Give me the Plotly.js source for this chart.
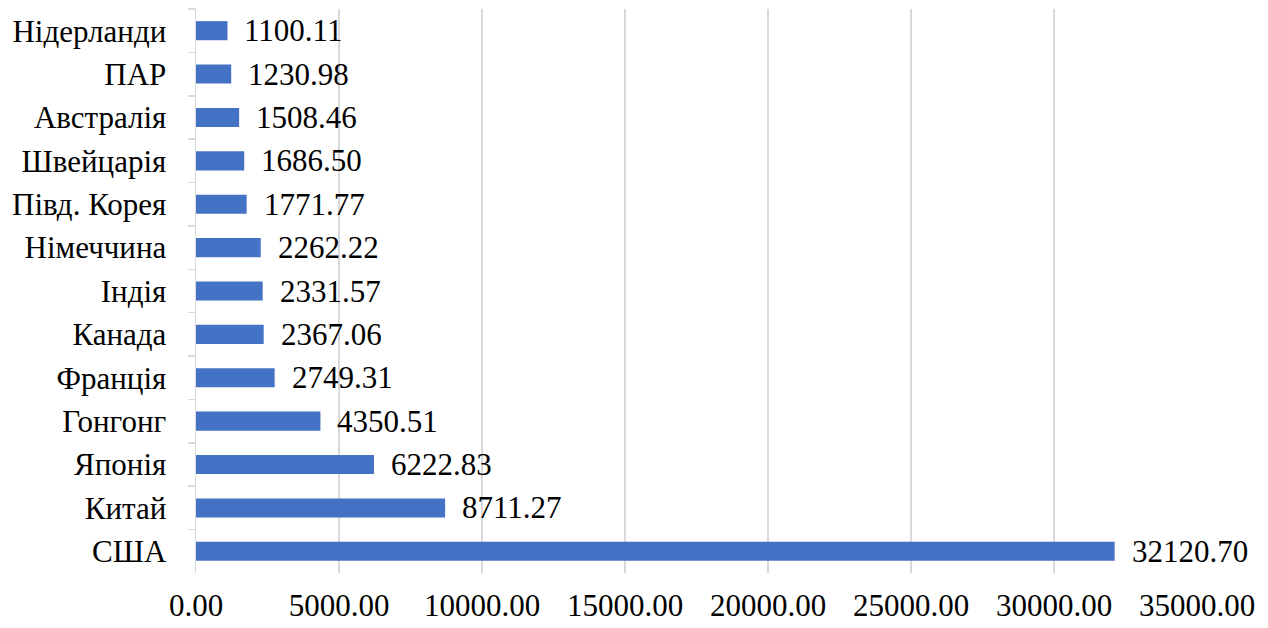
<!DOCTYPE html>
<html>
<head>
<meta charset="utf-8">
<script src="https://cdn.plot.ly/plotly-3.0.1.min.js"></script>
<style>html,body{margin:0;padding:0;background:#fff;}#chart{width:1268px;height:628px;}</style>
</head>
<body>
<div id="chart"></div>
<script>
const countries = ["Нідерланди","ПАР","Австралія","Швейцарія","Півд. Корея","Німеччина","Індія","Канада","Франція","Гонгонг","Японія","Китай","США"];
const values = [1100.11,1230.98,1508.46,1686.50,1771.77,2262.22,2331.57,2367.06,2749.31,4350.51,6222.83,8711.27,32120.70];
const xTickVals = [0,5000,10000,15000,20000,25000,30000,35000];

const font = "Liberation Serif";
const fs = 31;

const trace = {
  type: "bar",
  orientation: "h",
  y: countries,
  x: values,
  width: 0.44,
  marker: {color: "#4472C4"},
  hoverinfo: "none"
};

const annotations = countries.map((c, i) => ({
  x: values[i], y: c, xref: "x", yref: "y",
  text: values[i].toFixed(2),
  showarrow: false, xanchor: "left", xshift: 15,
  font: {family: font, size: fs, color: "#000"}
}));

const layout = {
  width: 1268, height: 628,
  margin: {l: 196, r: 71, t: 9, b: 55},
  paper_bgcolor: "#fff", plot_bgcolor: "#fff",
  showlegend: false,
  font: {family: font, size: fs, color: "#000"},
  xaxis: {
    range: [0, 35000], tickvals: xTickVals, ticktext: xTickVals.map(v => v.toFixed(2)),
    showgrid: true, gridcolor: "#d9d9d9", gridwidth: 1.5,
    zeroline: false, showline: false,
    ticks: "outside", ticklen: 5, tickcolor: "rgba(0,0,0,0)",
    tickfont: {family: font, size: fs, color: "#000"}
  },
  yaxis: {
    autorange: "reversed", type: "category",
    showline: true, linecolor: "#d9d9d9", linewidth: 1.5,
    ticks: "outside", tickson: "boundaries", ticklen: 7, tickcolor: "#d9d9d9", tickwidth: 1.5,
    ticklabelstandoff: 22,
    showgrid: false, zeroline: false,
    tickfont: {family: font, size: fs, color: "#000"}
  },
  annotations: annotations
};

Plotly.newPlot("chart", [trace], layout, {staticPlot: true});
</script>
</body>
</html>
